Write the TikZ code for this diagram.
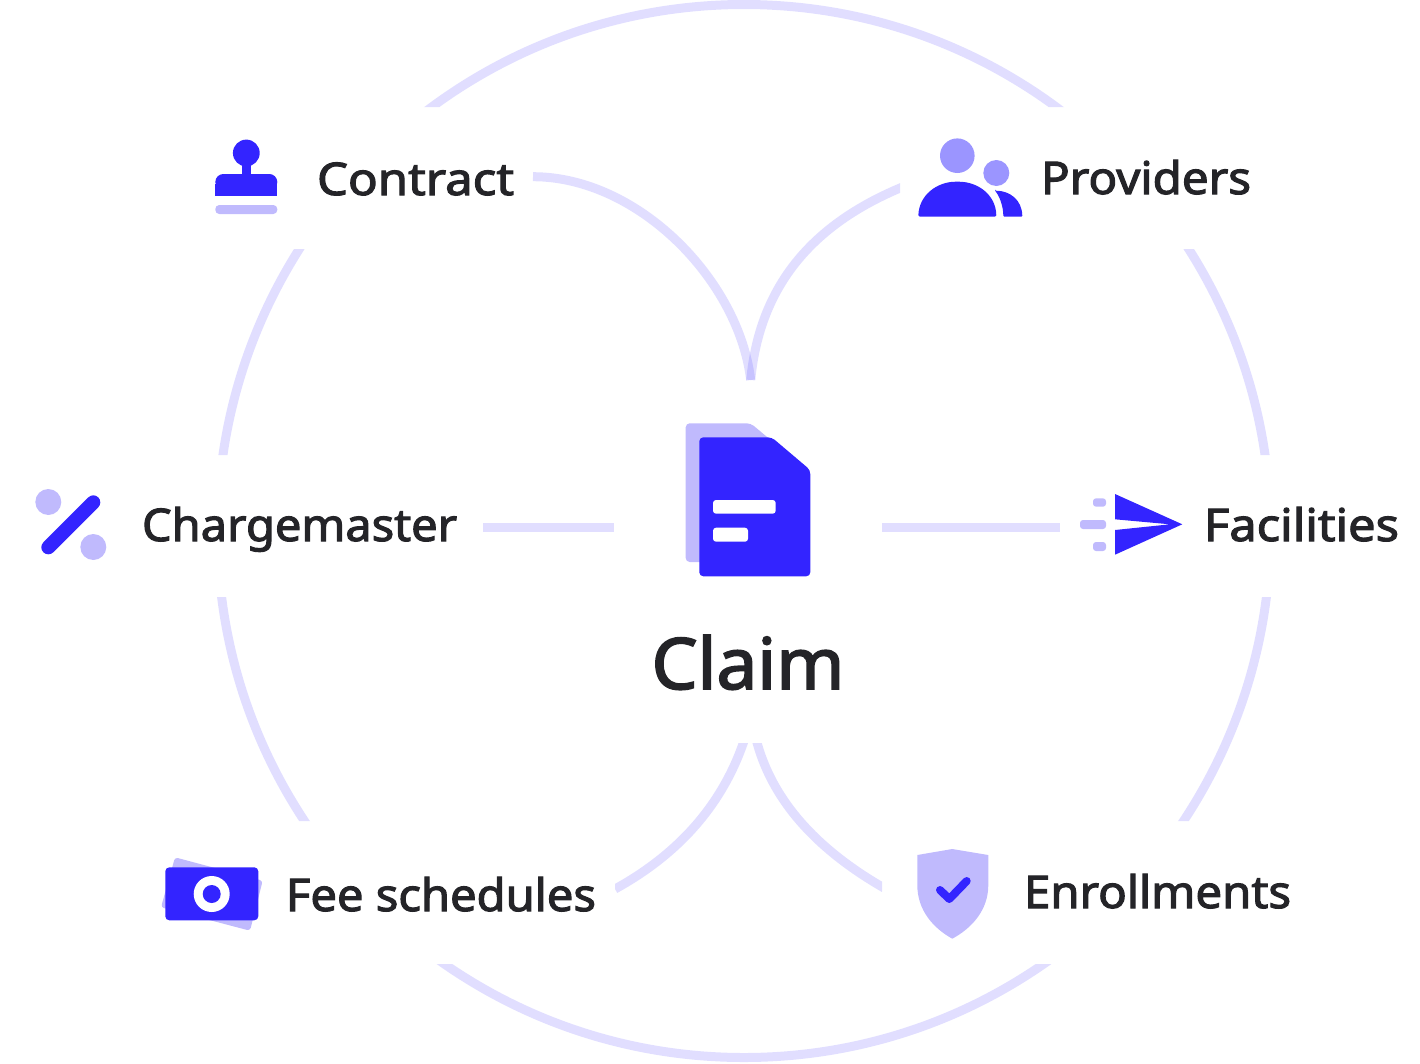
\documentclass[tikz,border=0pt]{standalone}
\usepackage{fontspec}
\usepackage{graphicx}
\setmainfont{Noto Sans}
\newfontfamily\labfont[FakeBold=2.4]{Noto Sans}
\definecolor{iconblue}{HTML}{3324FF}
\definecolor{iconlight}{HTML}{C0BAFD}
\definecolor{iconmid}{HTML}{9B95FF}
\definecolor{inkc}{HTML}{242428}
\newcommand{\fitw}[3]{\resizebox{#1pt}{\height}{\fontsize{#2}{#2}\labfont #3}}
\tikzset{
  label text/.style={anchor=base west,inner sep=0pt,outer sep=0pt,text=inkc},
  ring/.style={draw=iconblue,draw opacity=.15,line width=9pt},
  link/.style={draw=iconblue,draw opacity=.15,line width=9pt},
  blue/.style={fill=iconblue,draw=none},
  pale/.style={fill=iconlight,draw=none},
  mid/.style={fill=iconmid,draw=none},
  anchorbox/.style={inner sep=0pt,outer sep=0pt,draw=none,fill=none}
}
\begin{document}
\begin{tikzpicture}[x=1pt,y=1pt,yscale=-1]
\useasboundingbox (0,0) rectangle (1420,1063);
% outer ring
\begin{scope}
\clip (0,0) rectangle (1420,107) (0,249) rectangle (1420,455) (0,597) rectangle (1420,821) (0,964) rectangle (1420,1063);
\draw[ring] (744,531) circle[radius=526.5];
\end{scope}
% text nodes
\node[label text] (contract) at (317,195) {\makebox[216pt][l]{\fitw{197}{45}{Contract}}};
\node[label text] (providers) at (1041,194) {\fitw{210}{45}{Providers}};
\node[label text] (charge) at (142,541) {\makebox[341pt][l]{\fitw{315}{45}{Chargemaster}}};
\node[label text] (facilities) at (1204,541) {\fitw{195}{45}{Facilities}};
\node[label text] (fee) at (286,911) {\makebox[329pt][l]{\fitw{310}{45}{Fee schedules}}};
\node[label text] (enroll) at (1024,908) {\fitw{267}{45}{Enrollments}};
\node[label text,anchor=base] (claim) at (748,689) {\fitw{193}{71}{Claim}};
% invisible boxes
\node[anchorbox,minimum width=268pt,minimum height=363pt] (hub) at (748,561.5) {};
\node[anchorbox,minimum width=130pt,minimum height=80pt,anchor=west] (provicon) at (902,187.2) {};
\node[anchorbox,minimum width=120pt,minimum height=60pt,anchor=east] (facicon) at (1180,527) {};
\node[anchorbox,minimum width=100pt,minimum height=90pt,anchor=west] (enricon) at (884,888) {};
% connectors
\draw[link] (contract.east |- 0,176.7) .. controls +(105,0) and +(-12,-100) .. ([xshift=2.7pt]hub.north);
\begin{scope}
\clip (600,170) rectangle (900,400);
\draw[link] (provicon.west) .. controls +(-89,37) and +(9,-95) .. ([xshift=2.7pt]hub.north);
\end{scope}
\draw[link] (charge.east |- 0,527) -- (hub.west |- 0,527);
\draw[link] (hub.east |- 0,527) -- (facicon.west);
\begin{scope}
\clip (615,743) rectangle (882,910);
\draw[link] ([xshift=-4.7pt]hub.south) ++(1,-3) .. controls (721.5,808) and (675,856) .. (fee.east |- 0,889);
\draw[link] ([xshift=9.3pt]hub.south) ++(-1,-3) .. controls (773.8,807) and (825,854) .. (enricon.west);
\end{scope}
% stamp
\fill[blue] (246.3,153) circle[radius=13.4];
\fill[blue] (241.7,160) rectangle (250.9,178);
\fill[blue,rounded corners=8pt] (215.3,190) -- (215.3,174) -- (277.3,174) -- (277.3,190) -- cycle;
\fill[blue] (215.3,184) rectangle (277.3,196);
\fill[pale,rounded corners=4pt] (215.3,205) rectangle (277.3,214);
% providers icon
\fill[mid] (957.3,155.7) circle[radius=17.3];
\fill[mid] (996.3,173) circle[radius=13];
\fill[blue,rounded corners=1.5pt] (918.3,216.7) -- (918.3,216.7) .. controls (919,195) and (937,181.7) .. (957.3,181.7) .. controls (978,181.7) and (996,195) .. (996.3,216.7) -- cycle;
\fill[blue,rounded corners=1pt] (995,190.7) .. controls (1010,190.7) and (1022,200) .. (1022.3,216.7) -- (1003.3,216.7) .. controls (1003.3,207) and (1000,197) .. (995,190.7) -- cycle;
% document icon
\fill[pale,rounded corners=4pt] (685.7,423.3) -- (750.7,423.3) -- (785,452) -- (785,562) -- (685.7,562) -- cycle;
\fill[blue,rounded corners=4pt] (699.3,437.3) -- (771.7,437.3) -- (810.3,470) -- (810.3,576.3) -- (699.3,576.3) -- cycle;
\fill[white,rounded corners=3pt] (713,500) rectangle (775.7,513.7);
\fill[white,rounded corners=3pt] (713,527.7) rectangle (748,541.7);
% percent icon
\fill[iconlight] (48.3,502) circle[radius=13];
\fill[iconlight] (93.3,547) circle[radius=13];
\draw[iconblue,line width=14pt,line cap=round] (48.3,547.3) -- (93.3,502.3);
% plane icon
\fill[blue] (1115,494) -- (1182.3,524.3) -- (1115,554.7) -- (1115,530) -- (1170,524.3) -- (1115,519.3) -- cycle;
\fill[pale,rounded corners=3pt] (1093,498.3) rectangle (1106,506.7);
\fill[pale,rounded corners=3pt] (1080,520) rectangle (1106,529);
\fill[pale,rounded corners=3pt] (1093,542) rectangle (1106,551);
% fee icon
\fill[pale,rounded corners=3pt] (175,857.3) -- (262.7,880.7) -- (250,930.7) -- (161,907.3) -- cycle;
\fill[blue,rounded corners=4pt] (165.3,867.3) rectangle (258.3,920.3);
\fill[white] (211.7,894) circle[radius=18];
\fill[blue] (211.7,894) circle[radius=9];
% shield icon
\fill[pale] (917.3,855) -- (952.3,849) -- (988.3,855) -- (988.3,885) .. controls (988.3,910) and (972,928) .. (952.3,938.7) .. controls (933,928) and (917.3,910) .. (917.3,885) -- cycle;
\draw[iconblue,line width=8pt,line cap=round,line join=round] (940,890) -- (949.3,899) -- (966.7,881);
\end{tikzpicture}
\end{document}
